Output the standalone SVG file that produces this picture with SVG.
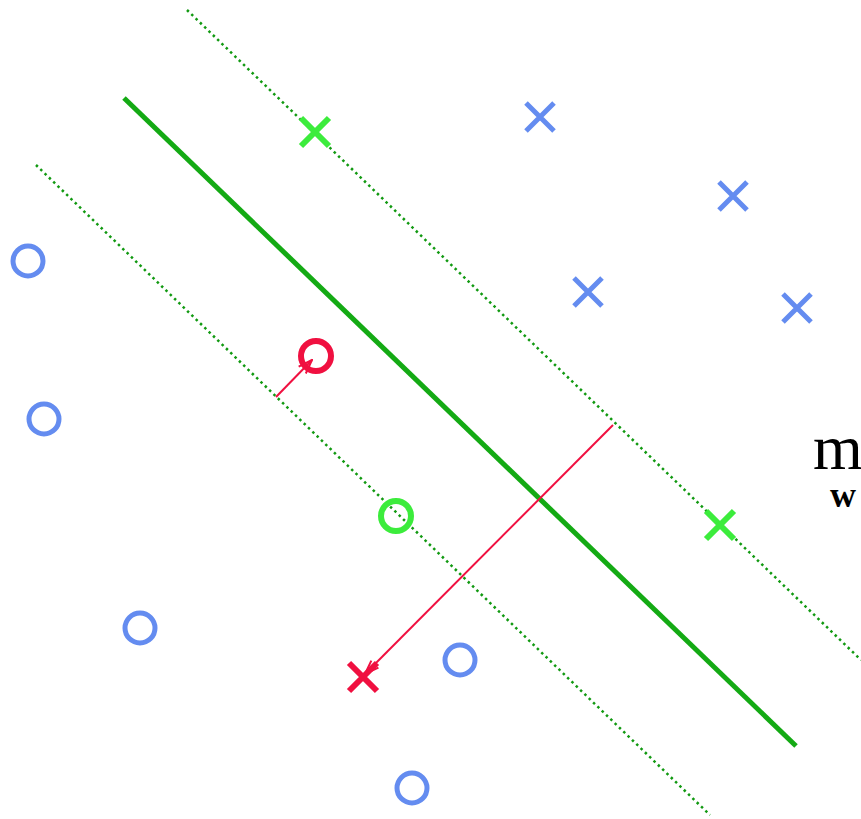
<svg xmlns="http://www.w3.org/2000/svg" width="861" height="819" viewBox="0 0 861 819">
<defs>
<style>
.bx{stroke:#648cf0;stroke-width:5;fill:none}
.gx{stroke:#3cec3c;stroke-width:6;fill:none}
.rx{stroke:#f01040;stroke-width:6;fill:none}
.dot{stroke:#119911;stroke-width:2.5;stroke-dasharray:2.5 3.5;fill:none}
.red{stroke:#f01040;stroke-width:2;fill:none}
</style>
<marker id="ah" viewBox="0 0 16 12" refX="15" refY="6" markerWidth="16" markerHeight="12" markerUnits="userSpaceOnUse" orient="auto">
<path d="M1,1 L15,6 L1,11" fill="none" stroke="#f01040" stroke-width="2"/>
</marker>
</defs>
<rect width="861" height="819" fill="#fff"/>
<g id="connectors">
<line class="dot" x1="187" y1="10" x2="861" y2="660"/>
<line class="dot" x1="36" y1="165" x2="710" y2="815"/>
<line x1="124" y1="98" x2="796" y2="746" stroke="#14aa14" stroke-width="5"/>
<line class="red" x1="613" y1="425" x2="365" y2="674" marker-end="url(#ah)"/>
<line class="red" x1="276" y1="397" x2="312" y2="360" marker-end="url(#ah)"/>
</g>
<g id="blue-crosses">
<path class="bx" d="M526,103 l28,28 m0,-28 l-28,28"/>
<path class="bx" d="M719,182 l28,28 m0,-28 l-28,28"/>
<path class="bx" d="M574,278 l28,28 m0,-28 l-28,28"/>
<path class="bx" d="M783,294 l28,28 m0,-28 l-28,28"/>
</g>
<g id="green-crosses">
<path class="gx" d="M301,118 l28,28 m0,-28 l-28,28"/>
<path class="gx" d="M706,511 l28,28 m0,-28 l-28,28"/>
</g>
<g id="red-cross">
<path class="rx" d="M349,663 l28,28 m0,-28 l-28,28"/>
</g>
<g id="blue-circles">
<circle class="bx" cx="28" cy="261" r="15"/>
<circle class="bx" cx="44" cy="419" r="15"/>
<circle class="bx" cx="140" cy="628" r="15"/>
<circle class="bx" cx="460" cy="660" r="15"/>
<circle class="bx" cx="412" cy="788" r="15"/>
</g>
<g id="green-circle">
<circle class="gx" cx="396" cy="516" r="15" stroke-width="5"/>
</g>
<g id="red-circle">
<circle class="rx" cx="316" cy="356" r="15" stroke-width="5"/>
</g>
<g id="label">
<text x="813" y="469" font-family="Liberation Serif, serif" font-size="64">m</text>
<text x="830" y="507" font-family="Liberation Serif, serif" font-size="36" font-weight="bold">w</text>
</g>
</svg>
